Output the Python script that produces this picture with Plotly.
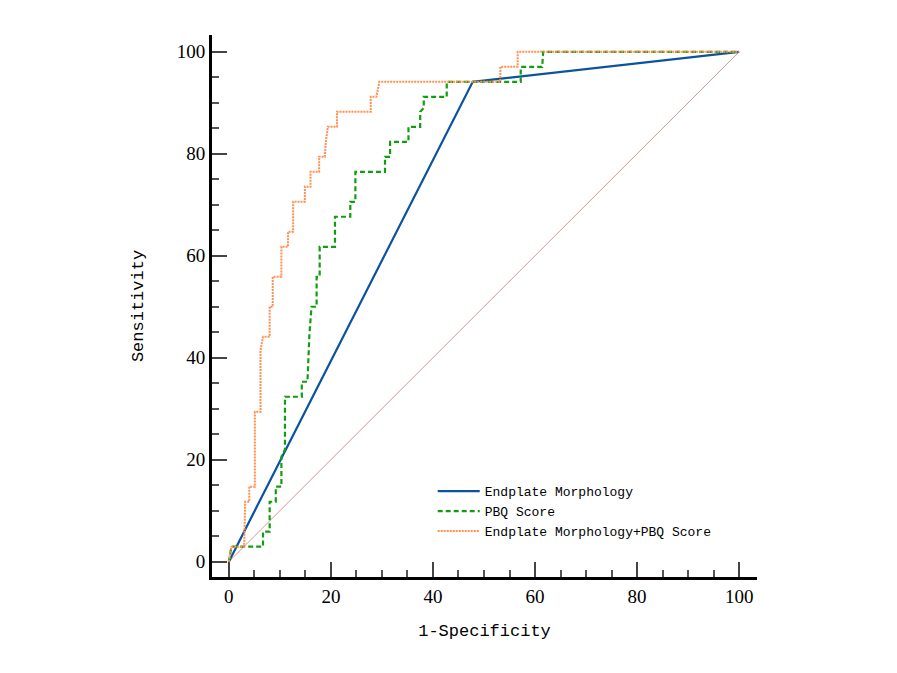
import plotly.graph_objects as go

# ROC points (1-specificity %, sensitivity %)
endplate_fpr = [0, 47.8, 100]
endplate_tpr = [0, 94.12, 100]

pbq_fpr = [0, 0.5, 6.7, 6.7, 8.0, 8.0, 9.2, 9.2, 10.3, 10.3, 11.0, 11.0, 14.3, 14.3,
           15.4, 15.8, 16.2, 17.2, 17.2, 17.8, 17.8, 20.8, 20.8, 23.8, 23.8, 24.8,
           24.8, 30.6, 30.6, 31.6, 31.6, 35.2, 35.2, 37.5, 37.5, 38.2, 38.2, 42.7,
           42.7, 57.2, 57.2, 61.4, 61.6, 100]
pbq_tpr = [0, 2.94, 2.94, 5.88, 5.88, 11.76, 11.76, 14.71, 14.71, 20.59, 22.0, 32.35,
           32.35, 35.29, 35.29, 44.8, 50.0, 50.0, 55.88, 55.88, 61.76, 61.76, 67.65,
           67.65, 70.59, 70.59, 76.47, 76.47, 79.41, 79.41, 82.35, 82.35, 85.29, 85.29,
           88.24, 89.0, 91.18, 91.18, 94.12, 94.12, 97.06, 97.06, 100, 100]

combo_fpr = [0, 0.5, 3.0, 3.2, 4.0, 4.0, 5.1, 5.1, 6.2, 6.2, 6.7, 8.0, 8.0, 8.6, 8.6,
             10.3, 10.3, 11.6, 11.6, 12.6, 12.6, 14.9, 14.9, 16.0, 16.0, 17.7, 17.7,
             18.8, 19.0, 19.4, 21.2, 21.2, 27.8, 27.8, 28.9, 29.5, 53.2, 53.2, 56.6,
             56.6, 100]
combo_tpr = [0, 2.94, 2.94, 11.76, 11.76, 14.71, 14.71, 29.41, 29.41, 41.5, 44.12,
             44.12, 50.0, 50.0, 55.88, 55.88, 61.76, 61.76, 64.71, 64.71, 70.59, 70.59,
             73.53, 73.53, 76.47, 76.47, 79.41, 79.41, 82.35, 85.29, 85.29, 88.24,
             88.24, 91.18, 91.18, 94.12, 94.12, 97.06, 97.06, 100, 100]

ref_line = [0, 100]

mono = "Liberation Mono"
serif = "Liberation Serif"

fig = go.Figure()

# chance diagonal
fig.add_trace(go.Scatter(x=ref_line, y=ref_line, mode="lines", showlegend=False,
                         line=dict(color="rgb(200,70,70)", width=0.6), hoverinfo="skip"))

fig.add_trace(go.Scatter(x=endplate_fpr, y=endplate_tpr, mode="lines",
                         name="Endplate Morphology",
                         line=dict(color="#0b539e", width=2.2)))
fig.add_trace(go.Scatter(x=pbq_fpr, y=pbq_tpr, mode="lines", name="PBQ Score",
                         line=dict(color="#109e10", width=2.2, dash="5px,3px")))
fig.add_trace(go.Scatter(x=combo_fpr, y=combo_tpr, mode="lines",
                         name="Endplate Morphology+PBQ Score",
                         line=dict(color="#ff9050", width=2, dash="2px,1px")))

axis_common = dict(
    showgrid=False, zeroline=False, showline=True, linecolor="black", linewidth=3,
    ticks="inside", ticklen=15, tickwidth=2, tickcolor="#444", dtick=20,
    tickfont=dict(family=serif, size=19, color="black"),
    minor=dict(dtick=5, ticks="inside", ticklen=7, tickwidth=1.5, tickcolor="#555"),
)

fig.update_xaxes(range=[-3.3, 103.5], tick0=0,
                 title=dict(text="1-Specificity", standoff=19,
                            font=dict(family=mono, size=17, color="black")),
                 **axis_common)
fig.update_yaxes(range=[-3.0, 103.3], tick0=0,
                 title=dict(text="Sensitivity", standoff=29,
                            font=dict(family=mono, size=17, color="black")),
                 **axis_common)

fig.update_layout(
    width=897, height=673,
    margin=dict(l=204, r=148, t=27, b=104),
    plot_bgcolor="white", paper_bgcolor="white",
    legend=dict(x=0.405, y=0.186, xanchor="left", yanchor="top", itemwidth=42,
                font=dict(family=mono, size=13, color="black"),
                bgcolor="rgba(0,0,0,0)", tracegroupgap=0),
)

fig.write_html("out.html")
